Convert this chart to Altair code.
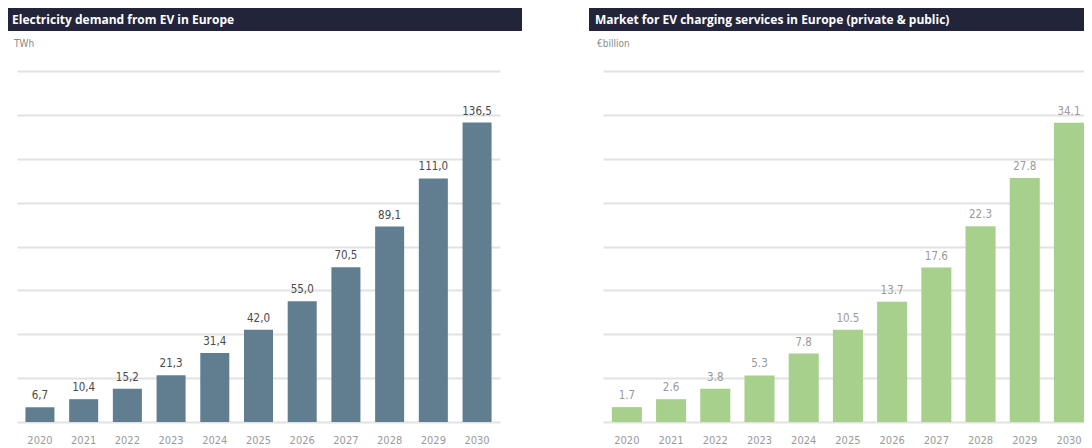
import altair as alt
import pandas as pd

years = [str(y) for y in range(2020, 2031)]
ev_demand_twh = [6.7, 10.4, 15.2, 21.3, 31.4, 42.0, 55.0, 70.5, 89.1, 111.0, 136.5]
charging_market_bn = [1.7, 2.6, 3.8, 5.3, 7.8, 10.5, 13.7, 17.6, 22.3, 27.8, 34.1]

left_title = "Electricity demand from EV in Europe"
left_unit = "TWh"
right_title = "Market for EV charging services in Europe (private & public)"
right_unit = "€billion"

NARROW = "Liberation Sans Narrow, DejaVu Sans Condensed, sans-serif"
BOLD = "Open Sans, Liberation Sans, sans-serif"

left_df = pd.DataFrame({
    "year": years,
    "value": ev_demand_twh,
    "label": [f"{v:.1f}".replace(".", ",") for v in ev_demand_twh],
})
right_df = pd.DataFrame({
    "year": years,
    "value": charging_market_bn,
    "label": [f"{v:.1f}" for v in charging_market_bn],
})


def panel(df, color, label_color, title, unit, ymax, step, width,
          pi, po, align, rect_x, rect_x2, text_x):
    base = alt.Chart(df)
    x = alt.X(
        "year:N", sort=years,
        scale=alt.Scale(paddingInner=pi, paddingOuter=po, align=align),
        axis=alt.Axis(title=None, labelColor="#9a9a9a", labelFont=NARROW,
                      labelFontSize=11, labelPadding=12, ticks=False,
                      domain=False, labelAngle=0),
    )
    y = alt.Y(
        "value:Q",
        scale=alt.Scale(domain=[0, ymax], nice=False),
        axis=alt.Axis(title=None, labels=False, ticks=False, domain=False,
                      grid=True, values=list(range(0, ymax + 1, step)),
                      gridColor="#e2e2e2", gridWidth=2),
    )
    bars = base.mark_bar(color=color).encode(x=x, y=y)
    labels = base.mark_text(font=NARROW, fontSize=11.5, color=label_color,
                            baseline="bottom", dy=-6).encode(
        x=x, y=y, text="label:N")
    head = alt.Chart(pd.DataFrame({"t": [title], "u": [unit]}))
    rect = head.mark_rect(color="#22253a").encode(
        x=alt.value(rect_x), x2=alt.value(rect_x2),
        y=alt.value(-63), y2=alt.value(-40))
    ttext = head.mark_text(align="left", baseline="middle", font=BOLD,
                           fontWeight="bold", fontSize=12,
                           color="white").encode(
        x=alt.value(text_x), y=alt.value(-51.5), text="t:N")
    utext = head.mark_text(align="left", baseline="middle", font=NARROW,
                           fontSize=10, color="#8a8a8a").encode(
        x=alt.value(text_x + 2), y=alt.value(-27), text="u:N")
    return alt.layer(bars, labels, rect, ttext, utext).properties(
        width=width, height=351)


left = panel(left_df, "#607e8f", "#4a4a4a", left_title, left_unit,
             160, 20, 483, 0.336, 0.193, 0.5, -9, 505, -5)
right = panel(right_df, "#a8d08d", "#9a9a9a", right_title, right_unit,
              40, 5, 481, 0.32, 0.1, 1, -14, 481, -8)

chart = alt.hconcat(left, right, spacing=67, padding=0,
                    background="white").configure_view(stroke=None)

chart.save("out.html", embed_options={"renderer": "svg", "actions": False})
